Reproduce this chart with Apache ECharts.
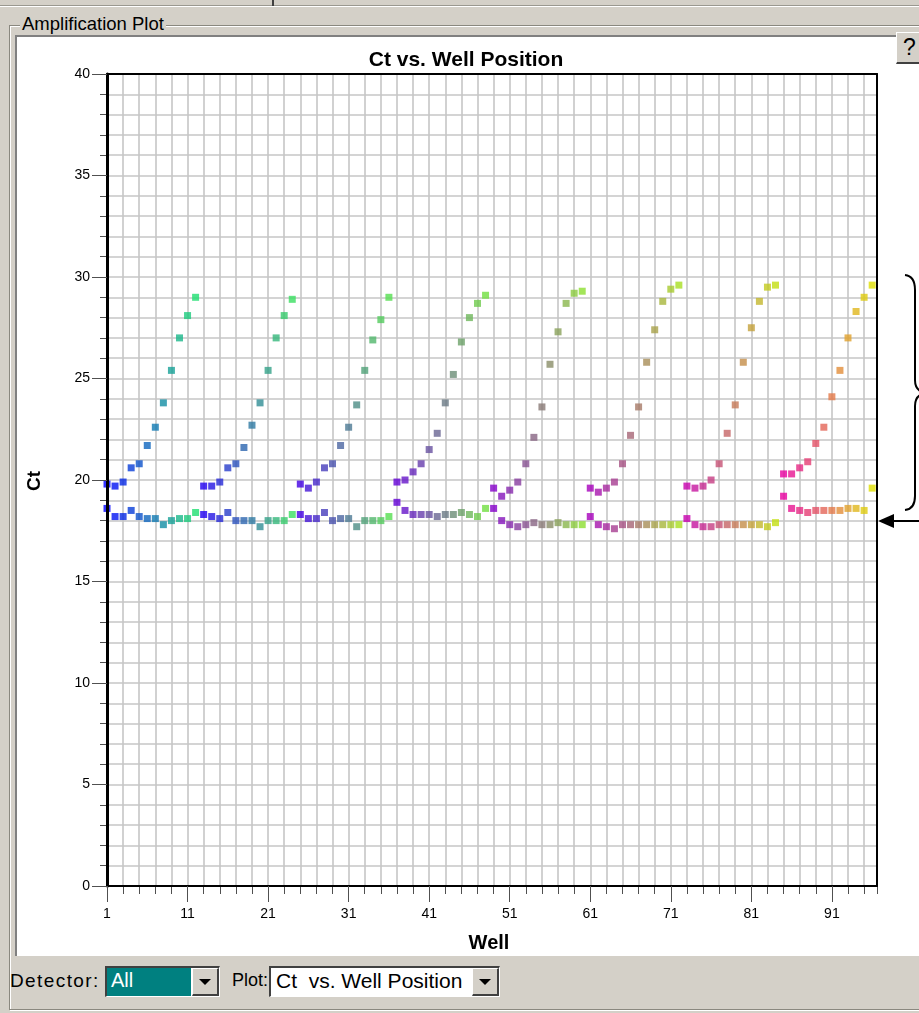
<!DOCTYPE html>
<html>
<head>
<meta charset="utf-8">
<title>Ct vs. Well Position</title>
<script src="https://cdn.jsdelivr.net/npm/echarts@6/dist/echarts.min.js"></script>
<style>
  html, body { margin: 0; padding: 0; }
  body { width: 919px; height: 1013px; position: relative; overflow: hidden;
         background: #d4d0c8; font-family: 'Liberation Sans', Arial, sans-serif; }
  .abs { position: absolute; }
  #topline { left: 0; top: 5px; width: 919px; height: 0; border-top: 1px solid #9a9890; border-bottom: 1px solid #fff; }
  #tabmark { left: 272px; top: 0; width: 2px; height: 6px; background: #404040; }
  #group { left: 9px; top: 25px; width: 920px; height: 983px; border: 1px solid #8a887f;
           box-shadow: inset 1px 1px 0 #fff, 1px 1px 0 #fff; }
  #legend { left: 20px; top: 13px; padding: 0 2px; background: #d4d0c8; font-size: 18.5px; color: #000; }
  #panel { left: 15px; top: 35px; width: 904px; height: 921px; background: #fff;
           border-left: 2px solid #808080; border-top: 2px solid #808080; box-sizing: border-box; }
  #help { left: 896px; top: 32px; width: 25px; height: 32px; background: #d4d0c8; box-sizing: border-box;
          border-top: 1px solid #fff; border-left: 1px solid #fff; border-bottom: 2px solid #404040;
          font-size: 23px; line-height: 29px; padding-left: 6px; color: #000; }
  .lbl { color: #000; top: 970px; white-space: nowrap; }
  .combo { top: 966px; height: 31px; box-sizing: border-box; border-top: 2px solid #404040; border-left: 2px solid #404040;
           border-bottom: 1px solid #fff; border-right: 1px solid #fff; }
  .btn { position: absolute; top: 0; right: 0; width: 27px; height: 28px; background: #d4d0c8; box-sizing: border-box;
         border-top: 1px solid #fff; border-left: 1px solid #fff; border-bottom: 2px solid #404040; border-right: 2px solid #404040; }
  .tri { position: absolute; left: 6px; top: 10px; width: 0; height: 0;
         border-left: 6px solid transparent; border-right: 6px solid transparent; border-top: 6px solid #000; }
  .txt { position: absolute; top: 1px; font-size: 21px; white-space: nowrap; }
  #chart { left: 0; top: 0; width: 919px; height: 1013px; z-index: 5; }
</style>
</head>
<body>
<div class="abs" id="topline"></div>
<div class="abs" id="tabmark"></div>
<div class="abs" id="group"></div>
<div class="abs" id="legend">Amplification Plot</div>
<div class="abs" id="panel"></div>
<div class="abs" id="help">?</div>

<div class="abs lbl" style="left:10px;font-size:19px;letter-spacing:1.4px;">Detector:</div>
<div class="abs combo" style="left:105px;width:115px;background:#fff;">
  <div style="position:absolute;left:0;top:0;width:84px;height:28px;background:#008080;"></div>
  <div class="txt" style="left:4px;color:#fff;font-size:20px;">All</div>
  <div class="btn"><div class="tri"></div></div>
</div>
<div class="abs lbl" style="left:232px;font-size:18px;">Plot:</div>
<div class="abs combo" style="left:269px;width:231px;background:#fff;">
  <div class="txt" style="left:5px;color:#000;">Ct&nbsp; vs. Well Position</div>
  <div class="btn"><div class="tri"></div></div>
</div>

<div class="abs" id="chart"></div>

<script>
// Well numbers of the 96-well plate (rows A-H, 12 columns each)
const wells = [
   1,  2,  3,  4,  5,  6,  7,  8,  9, 10, 11, 12,
  13, 14, 15, 16, 17, 18, 19, 20, 21, 22, 23, 24,
  25, 26, 27, 28, 29, 30, 31, 32, 33, 34, 35, 36,
  37, 38, 39, 40, 41, 42, 43, 44, 45, 46, 47, 48,
  49, 50, 51, 52, 53, 54, 55, 56, 57, 58, 59, 60,
  61, 62, 63, 64, 65, 66, 67, 68, 69, 70, 71, 72,
  73, 74, 75, 76, 77, 78, 79, 80, 81, 82, 83, 84,
  85, 86, 87, 88, 89, 90, 91, 92, 93, 94, 95, 96
];

// Ct of the dilution-series target in each well
const ctTarget = [
  19.8, 19.7, 19.9, 20.6, 20.8, 21.7, 22.6, 23.8, 25.4, 27.0, 28.1, 29.0,
  19.7, 19.7, 19.9, 20.6, 20.8, 21.6, 22.7, 23.8, 25.4, 27.0, 28.1, 28.9,
  19.8, 19.6, 19.9, 20.6, 20.8, 21.7, 22.6, 23.7, 25.4, 26.9, 27.9, 29.0,
  19.9, 20.0, 20.4, 20.8, 21.5, 22.3, 23.8, 25.2, 26.8, 28.0, 28.7, 29.1,
  19.6, 19.2, 19.5, 19.9, 20.8, 22.1, 23.6, 25.7, 27.3, 28.7, 29.2, 29.3,
  19.6, 19.4, 19.6, 19.9, 20.8, 22.2, 23.6, 25.8, 27.4, 28.8, 29.4, 29.6,
  19.7, 19.6, 19.7, 20.0, 20.8, 22.3, 23.7, 25.8, 27.5, 28.8, 29.5, 29.6,
  20.3, 20.3, 20.6, 20.9, 21.8, 22.6, 24.1, 25.4, 27.0, 28.3, 29.0, 29.6
];

// Ct of the reference detector in each well
const ctReference = [
  18.6, 18.2, 18.2, 18.5, 18.2, 18.1, 18.1, 17.8, 18.0, 18.1, 18.1, 18.4,
  18.3, 18.2, 18.1, 18.4, 18.0, 18.0, 18.0, 17.7, 18.0, 18.0, 18.0, 18.3,
  18.3, 18.1, 18.1, 18.4, 18.0, 18.1, 18.1, 17.7, 18.0, 18.0, 18.0, 18.2,
  18.9, 18.5, 18.3, 18.3, 18.3, 18.2, 18.3, 18.3, 18.4, 18.3, 18.2, 18.6,
  18.6, 18.0, 17.8, 17.7, 17.8, 17.9, 17.8, 17.8, 17.9, 17.8, 17.8, 17.8,
  18.2, 17.8, 17.7, 17.6, 17.8, 17.8, 17.8, 17.8, 17.8, 17.8, 17.8, 17.8,
  18.1, 17.8, 17.7, 17.7, 17.8, 17.8, 17.8, 17.8, 17.8, 17.8, 17.7, 17.9,
  19.2, 18.6, 18.5, 18.4, 18.5, 18.5, 18.5, 18.5, 18.6, 18.6, 18.5, 19.6
];

// Axis tick labels
const xTickLabels = [1, 11, 21, 31, 41, 51, 61, 71, 81, 91];
const yTickLabels = [0, 5, 10, 15, 20, 25, 30, 35, 40];

// Plate colouring: hue runs along the columns, shifting from row A to row H
function wellColor(w) {
  const row = Math.floor((w - 1) / 12), col = (w - 1) % 12;
  const t = row / 7, u = col / 11;
  const mix = (a, b, k) => a.map((v, i) => v + (b[i] - v) * k);
  const start = mix([0, 0, 255], [232, 0, 160], t);
  const end = mix([30, 222, 112], [222, 222, 0], t);
  const c = mix(start, end, u).map(Math.round);
  return 'rgb(' + c.join(',') + ')';
}

const toPoints = vals => wells.map((w, i) => ({
  value: [w, vals[i]],
  itemStyle: { color: wellColor(w) }
}));

const FONT = "'Liberation Sans', Arial, sans-serif";
const gridGray = '#c6c6c6';
const tickGray = '#505050';
const X_MAX = 96.6;
const ink = { stroke: '#000', lineWidth: 2, fill: null };

const chart = echarts.init(document.getElementById('chart'), null, { renderer: 'canvas' });

chart.setOption({
  backgroundColor: 'transparent',
  animation: false,
  grid: { left: 107, right: 42, top: 74, bottom: 127, containLabel: false },
  xAxis: [
    { // grid lines and short ticks every 2 wells
      type: 'value', min: 1, max: X_MAX, interval: 2, position: 'bottom',
      axisLine: { show: false },
      axisTick: { show: true, length: 8, lineStyle: { color: tickGray, width: 1 } },
      axisLabel: { show: false },
      splitLine: { show: true, lineStyle: { color: gridGray, width: 1.6 } }
    },
    { // labelled ticks and the bottom axis line
      type: 'value', min: 1, max: X_MAX, interval: 10, position: 'bottom', z: 4,
      axisLine: { show: true, onZero: false, lineStyle: { color: '#000', width: 2 } },
      axisTick: { show: true, length: 16, customValues: xTickLabels, lineStyle: { color: tickGray, width: 1 } },
      axisLabel: { show: true, customValues: xTickLabels, margin: 21, fontSize: 14,
                   fontFamily: FONT, color: '#000' },
      splitLine: { show: false }
    },
    { // top frame
      type: 'value', min: 1, max: X_MAX, position: 'top', z: 4,
      axisLine: { show: true, onZero: false, lineStyle: { color: '#000', width: 2 } },
      axisTick: { show: false }, axisLabel: { show: false }, splitLine: { show: false }
    }
  ],
  yAxis: [
    { // grid lines and short ticks every 1 Ct
      type: 'value', min: 0, max: 40, interval: 1, position: 'left',
      axisLine: { show: false },
      axisTick: { show: true, length: 7, lineStyle: { color: tickGray, width: 1 } },
      axisLabel: { show: false },
      splitLine: { show: true, lineStyle: { color: gridGray, width: 1.6 } }
    },
    { // labelled ticks and the left axis line
      type: 'value', min: 0, max: 40, interval: 5, position: 'left', z: 4,
      axisLine: { show: true, onZero: false, lineStyle: { color: '#000', width: 3 } },
      axisTick: { show: true, length: 15, lineStyle: { color: tickGray, width: 1 } },
      axisLabel: { show: true, margin: 17, fontSize: 14, fontFamily: FONT, color: '#000',
                   formatter: v => (yTickLabels.indexOf(v) >= 0 ? String(v) : '') },
      splitLine: { show: false }
    },
    { // right frame
      type: 'value', min: 0, max: 40, position: 'right', z: 4,
      axisLine: { show: true, onZero: false, lineStyle: { color: '#000', width: 2 } },
      axisTick: { show: false }, axisLabel: { show: false }, splitLine: { show: false }
    }
  ],
  series: [
    {
      name: 'Target', type: 'scatter', xAxisIndex: 0, yAxisIndex: 0,
      symbol: 'rect', symbolSize: 7, z: 2, silent: true,
      data: toPoints(ctTarget)
    },
    {
      name: 'Reference', type: 'scatter', xAxisIndex: 0, yAxisIndex: 0,
      symbol: 'rect', symbolSize: 7, z: 2, silent: true,
      data: toPoints(ctReference)
    }
  ],
  graphic: [
    { type: 'text', z: 10,
      style: { text: 'Ct vs. Well Position', x: 466, y: 60, align: 'center', verticalAlign: 'middle',
               font: "bold 21px 'Liberation Sans', Arial, sans-serif", fill: '#000' } },
    { type: 'text', z: 10,
      style: { text: 'Well', x: 489, y: 943, align: 'center', verticalAlign: 'middle',
               font: "bold 20px 'Liberation Sans', Arial, sans-serif", fill: '#000' } },
    { type: 'text', z: 10, x: 35, y: 481, rotation: Math.PI / 2,
      style: { text: 'Ct', x: 0, y: 0, align: 'center', verticalAlign: 'middle',
               font: "bold 19px 'Liberation Sans', Arial, sans-serif", fill: '#000' } },
    // brace grouping the dilution curves
    { type: 'bezierCurve', z: 10, shape: { x1: 905, y1: 275, cpx1: 915, cpy1: 276, x2: 915, y2: 290 }, style: ink },
    { type: 'line', z: 10, shape: { x1: 915, y1: 290, x2: 915, y2: 380 }, style: ink },
    { type: 'bezierCurve', z: 10, shape: { x1: 915, y1: 380, cpx1: 915, cpy1: 392, x2: 927, y2: 393 }, style: ink },
    { type: 'bezierCurve', z: 10, shape: { x1: 927, y1: 393, cpx1: 915, cpy1: 394, x2: 915, y2: 406 }, style: ink },
    { type: 'line', z: 10, shape: { x1: 915, y1: 406, x2: 915, y2: 496 }, style: ink },
    { type: 'bezierCurve', z: 10, shape: { x1: 915, y1: 496, cpx1: 915, cpy1: 509, x2: 905, y2: 510 }, style: ink },
    // arrow pointing at the reference detector band
    { type: 'line', z: 10, shape: { x1: 890, y1: 521, x2: 925, y2: 521 }, style: ink },
    { type: 'polygon', z: 10, shape: { points: [[878, 521], [894, 514], [894, 528]] },
      style: { fill: '#000' } }
  ]
});
</script>
</body>
</html>
